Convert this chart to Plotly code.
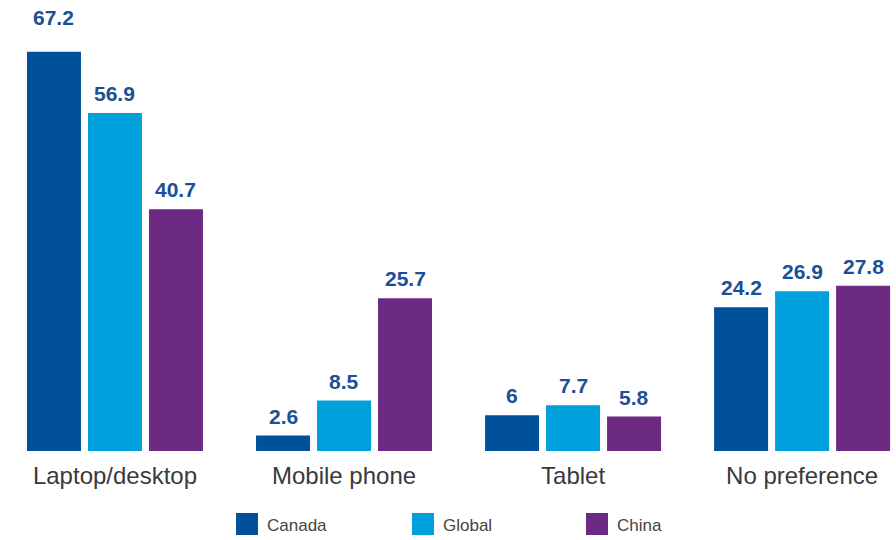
import plotly.graph_objects as go

categories = ["Laptop/desktop", "Mobile phone", "Tablet", "No preference"]
series_names = ["Canada", "Global", "China"]
canada = [67.2, 2.6, 6, 24.2]
global_ = [56.9, 8.5, 7.7, 26.9]
china = [40.7, 25.7, 5.8, 27.8]
colors = ["#00509B", "#00A0DD", "#6D2A82"]
label_color = "#1B4F96"

series = [canada, global_, china]

fig = go.Figure()
for name, vals, col in zip(series_names, series, colors):
    fig.add_trace(go.Bar(name=name, x=categories, y=vals, marker_color=col,
                         marker_line_width=0, showlegend=False))

annotations = []
for i, vals in enumerate(series):
    for c, v in zip(categories, vals):
        extra = 15 if v > 60 else 0
        annotations.append(dict(x=c, y=v, xref="x", yref="y", text=f"{v:g}",
                                showarrow=False, yanchor="bottom", xshift=(i - 1) * 61,
                                yshift=6 + extra,
                                font=dict(family="Arial", size=21, color=label_color, weight="bold")))

# manual legend (pixel positions converted to paper coordinates)
PLOT_TOP, PLOT_BOTTOM, W = 20, 451, 896
PH = PLOT_BOTTOM - PLOT_TOP
def py(p):
    return (PLOT_BOTTOM - p) / PH

legend_x = [236, 412, 586]
for name, col, lx in zip(series_names, colors, legend_x):
    fig.add_shape(type="rect", xref="paper", yref="paper",
                  x0=lx / W, x1=(lx + 22) / W,
                  y0=py(535), y1=py(513),
                  fillcolor=col, line_width=0)
    annotations.append(dict(x=(lx + 29) / W, y=py(525), xref="paper", yref="paper",
                            text=name, showarrow=False, xanchor="left", yanchor="middle",
                            font=dict(family="Arial", size=17, color="#444444")))

fig.update_layout(
    width=896, height=540,
    margin=dict(l=0, r=0, t=PLOT_TOP, b=540 - PLOT_BOTTOM),
    paper_bgcolor="white", plot_bgcolor="white",
    barmode="group", bargap=0.201, bargroupgap=0.115,
    annotations=annotations,
    xaxis=dict(range=[-0.502, 3.410], showgrid=False, showline=False, zeroline=False,
               ticks="", tickfont=dict(family="Arial", size=24, color="#3A3A3A"),
               ticklabelstandoff=8),
    yaxis=dict(range=[0, PH / 5.94], visible=False),
)

fig.write_html("out.html")
